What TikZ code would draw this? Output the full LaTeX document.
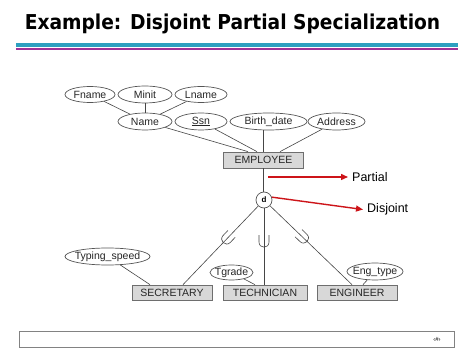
\documentclass[tikz,border=0pt]{standalone}
\usepackage{fontspec}
\usepackage{graphicx}
\setmainfont{Liberation Sans}
\newfontfamily\titlefont{DejaVu Sans}
\usetikzlibrary{shapes.geometric,arrows.meta,calc}
\definecolor{teal1}{RGB}{45,160,192}
\definecolor{mag1}{RGB}{160,48,150}
\definecolor{edgegray}{RGB}{85,85,85}
\definecolor{linegray}{RGB}{70,70,70}
\definecolor{boxfill}{RGB}{216,216,216}
\definecolor{boxborder}{RGB}{110,110,110}
\definecolor{arrowred}{RGB}{205,20,25}
\definecolor{footgray}{RGB}{130,130,130}
\tikzset{
  usub/.pic={\draw[linegray,line width=0.6pt] (-5,-6) -- (-5,1) .. controls (-5,7.67) and (5,7.67) .. (5,1) -- (5,-6);}
}
\begin{document}
\begin{tikzpicture}[x=1pt,y=-1pt,
  attr/.style={ellipse,draw=edgegray,line width=0.7pt,fill=white,inner xsep=-3pt,inner ysep=0pt,font=\fontsize{10.5}{12}\selectfont,text=black!85},
  ent/.style={rectangle,draw=boxborder,fill=boxfill,line width=0.7pt,inner sep=0pt,font=\fontsize{10.5}{12}\selectfont,text=black!85},
  conn/.style={draw=linegray,line width=0.6pt},
  redarrow/.style={draw=arrowred,line width=1.4pt,-{Triangle[length=7pt,width=6pt]},arrowred},
  lbl/.style={font=\fontsize{12.5}{14}\selectfont,inner sep=0pt},
]
\useasboundingbox (0,0) rectangle (474,355);
\fill[white] (0,0) rectangle (474,355);

% title
\node[anchor=base,inner sep=0pt] (title) at (232.5,29.3) {\titlefont\bfseries\fontsize{20.5}{24}\selectfont\scalebox{0.91}[1]{Example: Disjoint Partial Specialization}};
\draw[teal1,line width=4.3pt] (16,44.8) -- (458,44.8);
\draw[mag1,line width=2.3pt] (16,48.9) -- (458,48.9);

% attributes of EMPLOYEE
\node[attr,minimum width=50pt,minimum height=16pt] (fname) at (90,94.5) {Fname};
\node[attr,minimum width=54pt,minimum height=17pt] (minit) at (145,94.5) {Minit};
\node[attr,minimum width=52pt,minimum height=16pt] (lname) at (201,94.5) {Lname};
\node[attr,minimum width=54pt,minimum height=17pt] (name) at (145,121.5) {Name};
\node[attr,minimum width=52pt,minimum height=17pt] (ssn) at (201,121.5) {\underline{Ssn}};
\node[attr,minimum width=77pt,minimum height=17pt] (bdate) at (268.5,121.5) {Birth\_date};
\node[attr,minimum width=57pt,minimum height=17pt] (addr) at (336.5,121.5) {Address};

\node[ent,minimum width=80pt,minimum height=16pt] (emp) at (263.5,160) {EMPLOYEE};

\draw[conn] (fname) -- (name);
\draw[conn] (minit) -- (name);
\draw[conn] (lname) -- (name);
\draw[conn] (name) -- ($(emp.north)+(-15.5,0)$);
\draw[conn] (ssn) -- ($(emp.north)+(-6.5,0)$);
\draw[conn] (emp.north) -- (emp.north |- bdate.south);
\draw[conn] (addr) -- ($(emp.north)+(16.5,0)$);

% d circle
\node[circle,draw=edgegray,fill=white,line width=0.7pt,minimum size=16pt,inner sep=0pt,font=\bfseries\fontsize{8}{9}\selectfont] (d) at (264,200) {d};
\draw[conn] (emp.south) -- (emp.south |- d.north);

% red labels
\node[lbl,anchor=west] (partial) at (352,177) {Partial};
\coordinate (pstart) at (268,177);
\draw[redarrow,shorten >=4pt] (pstart) -- (partial.west);
\node[lbl,anchor=base west] (disjoint) at (367,212.5) {Disjoint};
\coordinate (dend) at (363,209.5);
\draw[redarrow] (d.20) -- (dend);

% subclasses
\node[ent,minimum width=80pt,minimum height=15pt] (sec) at (172,292.5) {SECRETARY};
\node[ent,minimum width=84pt,minimum height=15pt] (tech) at (265,292.5) {TECHNICIAN};
\node[ent,minimum width=80pt,minimum height=15pt] (eng) at (357,292.5) {ENGINEER};

\node[attr,minimum width=85pt,minimum height=17pt] (ts) at (107.5,256.5) {Typing\_speed};
\node[attr,minimum width=43pt,minimum height=15pt] (tg) at (231.5,272.5) {Tgrade};
\node[attr,minimum width=56pt,minimum height=17pt] (et) at (375,271.5) {Eng\_type};

\draw[conn] (ts) -- ($(sec.north)+(-22,0)$);
\draw[conn] (tg) -- ($(tech.north)+(-10,0)$);
\draw[conn] (et) -- ($(eng.north)+(6,0)$);

\draw[conn] (d) -- coordinate[pos=0.41] (u1) ($(sec.north)+(11,0)$);
\draw[conn] (d) -- coordinate[pos=0.43] (u2) (d |- tech.north);
\draw[conn] (d) -- coordinate[pos=0.40] (u3) ($(eng.north)+(-5,0)$);
\pic[rotate=-43.6] at (u1) {usub};
\pic at (u2) {usub};
\pic[rotate=46] at (u3) {usub};

% footer
\node[draw=footgray,line width=0.8pt,minimum width=435pt,minimum height=16pt,inner sep=0pt] (foot) at (236.5,339) {};
\node[inner sep=0pt,font=\fontsize{6}{7}\selectfont] (pg) at (437,339) {‹\#›};
\end{tikzpicture}
\end{document}
